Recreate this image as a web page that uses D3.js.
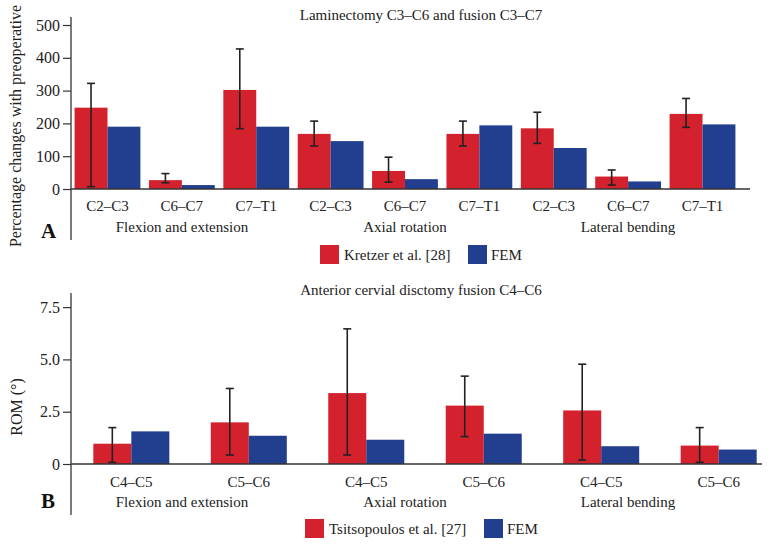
<!DOCTYPE html>
<html>
<head>
<meta charset="utf-8">
<script src="https://cdn.jsdelivr.net/npm/d3@7"></script>
<style>
  html, body { margin: 0; padding: 0; background: #fff; }
  svg { display: block; }
  svg text { font-family: 'Liberation Serif', 'Times New Roman', 'DejaVu Serif', serif !important; }
</style>
</head>
<body>
<svg id="chart" width="771" height="548"></svg>
<script>
// ---------- Data ----------
const groups = ["Flexion and extension", "Axial rotation", "Lateral bending"];

// Panel A
const titleA = "Laminectomy C3–C6 and fusion C3–C7";
const categoriesA = ["C2–C3", "C6–C7", "C7–T1", "C2–C3", "C6–C7", "C7–T1", "C2–C3", "C6–C7", "C7–T1"];
const kretzer = [248, 27, 302, 168, 55, 168, 185, 38, 229];
const kretzerLow = [7, 19, 184, 131, 21, 131, 139, 12, 188];
const kretzerHigh = [322, 47, 427, 207, 97, 207, 234, 58, 276];
const femA = [190, 12, 190, 146, 30, 194, 125, 23, 197];
const ticksA = [0, 100, 200, 300, 400, 500];
const tickLabelsA = ["0", "100", "200", "300", "400", "500"];
const legendA = ["Kretzer et al. [28]", "FEM"];

// Panel B
const titleB = "Anterior cervial disctomy fusion C4–C6";
const categoriesB = ["C4–C5", "C5–C6", "C4–C5", "C5–C6", "C4–C5", "C5–C6"];
const tsits = [0.97, 1.99, 3.39, 2.79, 2.56, 0.88];
const tsitsLow = [0.08, 0.43, 0.43, 1.31, 0.19, 0.08];
const tsitsHigh = [1.74, 3.61, 6.46, 4.20, 4.77, 1.74];
const femB = [1.56, 1.35, 1.16, 1.45, 0.85, 0.69];
const ticksB = [0, 2.5, 5, 7.5];
const tickLabelsB = ["0", "2.5", "5.0", "7.5"];
const legendB = ["Tsitsopoulos et al. [27]", "FEM"];

// ---------- Style ----------
const RED = "#d4212e";
const BLUE = "#223f8f";
const INK = "#222";
const AXIS = "#333";
const FS = 15;
const FONT = "'Liberation Serif', 'Times New Roman', serif";

const svg = d3.select("#chart");

// shared group scale (group label positions)
const xGroup = d3.scaleBand().domain(groups).range([70.5, 739.5]);

function panel(cfg) {
  const g = svg.append("g").attr("font-family", FONT);
  const idx = cfg.categories.map((d, i) => i);
  const x = d3.scaleBand().domain(idx).range(cfg.xRange)
    .paddingInner(cfg.padIn).paddingOuter(cfg.padOut);
  const xs = d3.scaleBand().domain(["a", "b"]).range([0, x.bandwidth()]);
  const y = cfg.y;

  // Bars
  g.selectAll("rect.a").data(cfg.valsA).join("rect")
    .attr("x", (d, i) => x(i) + xs("a"))
    .attr("y", d => y(d))
    .attr("width", xs.bandwidth())
    .attr("height", d => y(0) - y(d))
    .attr("fill", RED);
  g.selectAll("rect.b").data(cfg.valsB).join("rect")
    .attr("x", (d, i) => x(i) + xs("b"))
    .attr("y", d => y(d))
    .attr("width", xs.bandwidth())
    .attr("height", d => y(0) - y(d))
    .attr("fill", BLUE);

  // Error bars
  const cx = i => x(i) + xs("a") + xs.bandwidth() / 2;
  const eg = g.append("g").attr("stroke", INK).attr("stroke-width", 1.6).attr("fill", "none");
  idx.forEach(i => {
    const y0 = y(cfg.low[i]), y1 = y(cfg.high[i]);
    eg.append("line").attr("x1", cx(i)).attr("x2", cx(i)).attr("y1", y0).attr("y2", y1);
    eg.append("line").attr("x1", cx(i) - 4).attr("x2", cx(i) + 4).attr("y1", y0).attr("y2", y0);
    eg.append("line").attr("x1", cx(i) - 4).attr("x2", cx(i) + 4).attr("y1", y1).attr("y2", y1);
  });

  // Axis (left)
  const axis = d3.axisLeft(y).tickValues(cfg.ticks)
    .tickFormat((d, i) => cfg.tickLabels[i]).tickSize(8).tickPadding(3);
  const ag = g.append("g").attr("transform", "translate(71,0)").call(axis)
    .attr("font-family", FONT).attr("font-size", 16);
  ag.select(".domain").remove();
  ag.selectAll(".tick line").attr("stroke", AXIS).attr("stroke-width", 1.2);
  ag.selectAll(".tick text").attr("fill", INK);

  // vertical axis line
  g.append("line").attr("x1", 71).attr("x2", 71)
    .attr("y1", cfg.axisTop).attr("y2", cfg.axisBottom)
    .attr("stroke", AXIS).attr("stroke-width", 1.3);
  // baseline
  g.append("line").attr("x1", 71).attr("x2", cfg.baseEnd)
    .attr("y1", y(0)).attr("y2", y(0))
    .attr("stroke", AXIS).attr("stroke-width", 1.3);

  // Category labels
  g.selectAll("text.cat").data(cfg.categories).join("text")
    .attr("x", (d, i) => x(i) + x.bandwidth() / 2)
    .attr("y", cfg.catY)
    .attr("text-anchor", "middle")
    .attr("fill", INK)
    .attr("font-size", FS)
    .text(d => d);

  // Group labels
  g.selectAll("text.grp").data(groups).join("text")
    .attr("x", d => xGroup(d) + xGroup.bandwidth() / 2)
    .attr("y", cfg.grpY)
    .attr("text-anchor", "middle")
    .attr("fill", INK)
    .attr("font-size", FS)
    .text(d => d);

  // Title
  g.append("text").attr("x", 421).attr("y", cfg.titleY)
    .attr("text-anchor", "middle").attr("fill", INK)
    .attr("font-size", FS).text(cfg.title);

  // Y label
  g.append("text")
    .attr("transform", `translate(${cfg.ylabX},${cfg.ylabY}) rotate(-90)`)
    .attr("text-anchor", "middle").attr("fill", INK)
    .attr("font-size", 16).text(cfg.ylabel);

  // Panel letter
  g.append("text").attr("x", 41).attr("y", cfg.letterY)
    .attr("fill", "#111").attr("font-size", 21).attr("font-weight", "bold")
    .text(cfg.letter);

  // Legend
  const lg = g.append("g");
  const sq = 19;
  lg.append("rect").attr("x", cfg.leg[0]).attr("y", cfg.legY).attr("width", sq).attr("height", sq).attr("fill", RED);
  lg.append("text").attr("x", cfg.leg[0] + sq + 5).attr("y", cfg.legY + 15)
    .attr("fill", INK).attr("font-size", FS).text(cfg.legend[0]);
  lg.append("rect").attr("x", cfg.leg[1]).attr("y", cfg.legY).attr("width", sq).attr("height", sq).attr("fill", BLUE);
  lg.append("text").attr("x", cfg.leg[1] + sq + 4).attr("y", cfg.legY + 15)
    .attr("fill", INK).attr("font-size", FS).text(cfg.legend[1]);
}

panel({
  categories: categoriesA, valsA: kretzer, valsB: femA, low: kretzerLow, high: kretzerHigh,
  xRange: [70.3, 739.7], padIn: 0.115, padOut: 0.0575,
  y: d3.scaleLinear().domain([0, 500]).range([189, 25]),
  ticks: ticksA, tickLabels: tickLabelsA,
  axisTop: 17, axisBottom: 240, baseEnd: 750,
  catY: 211, grpY: 232, titleY: 20, title: titleA,
  ylabel: "Percentage changes with preoperative", ylabX: 21, ylabY: 126,
  letter: "A", letterY: 238,
  legend: legendA, leg: [320, 468], legY: 245
});

panel({
  categories: categoriesB, valsA: tsits, valsB: femB, low: tsitsLow, high: tsitsHigh,
  xRange: [71, 779], padIn: 0.353, padOut: 0.19,
  y: d3.scaleLinear().domain([0, 2.5]).range([464, 411.7]),
  ticks: ticksB, tickLabels: tickLabelsB,
  axisTop: 293, axisBottom: 515, baseEnd: 762,
  catY: 487, grpY: 507, titleY: 295, title: titleB,
  ylabel: "ROM (°)", ylabX: 22, ylabY: 407,
  letter: "B", letterY: 508,
  legend: legendB, leg: [305, 484], legY: 519
});
</script>
</body>
</html>
